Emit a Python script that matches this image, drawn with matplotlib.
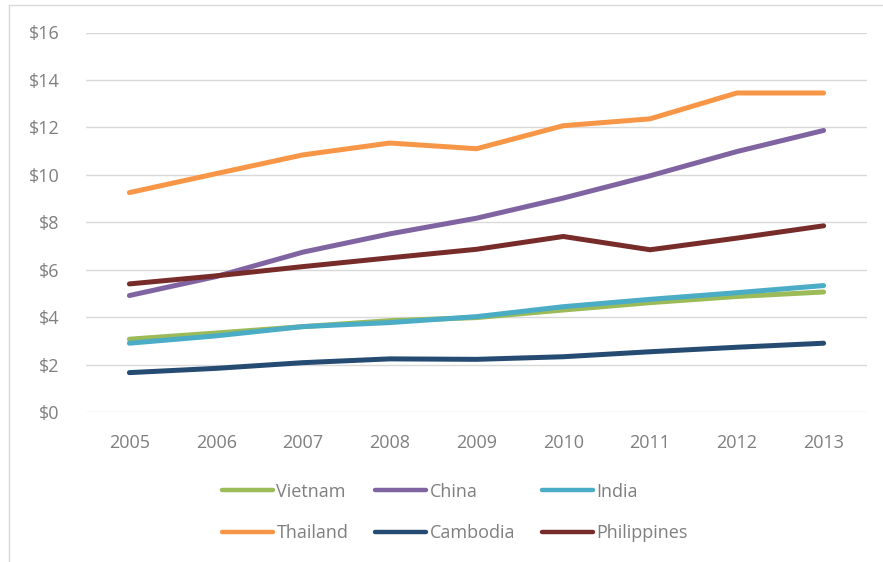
import matplotlib
matplotlib.use("Agg")
import matplotlib.pyplot as plt
from matplotlib.lines import Line2D

years = ["2005", "2006", "2007", "2008", "2009", "2010", "2011", "2012", "2013"]
vietnam = [3.07, 3.33, 3.60, 3.85, 3.98, 4.30, 4.61, 4.87, 5.06]
china = [4.91, 5.71, 6.74, 7.51, 8.17, 9.02, 9.96, 10.98, 11.87]
india = [2.90, 3.21, 3.60, 3.77, 4.02, 4.44, 4.75, 5.03, 5.33]
thailand = [9.25, 10.05, 10.84, 11.34, 11.10, 12.07, 12.36, 13.45, 13.45]
cambodia = [1.66, 1.84, 2.08, 2.24, 2.22, 2.33, 2.54, 2.73, 2.90]
philippines = [5.40, 5.74, 6.13, 6.50, 6.86, 7.40, 6.84, 7.33, 7.85]
y_ticks = [0, 2, 4, 6, 8, 10, 12, 14, 16]

series = [
    ("Vietnam", vietnam, "#9BBB59"),
    ("China", china, "#8064A2"),
    ("India", india, "#4BACC6"),
    ("Thailand", thailand, "#F79646"),
    ("Cambodia", cambodia, "#264B73"),
    ("Philippines", philippines, "#772C2A"),
]

plt.rcParams['font.family'] = ['Open Sans', 'DejaVu Sans']
text_color = "#7F7F7F"

fig = plt.figure(figsize=(8.83, 5.62), dpi=100)
ax = fig.add_axes([86/883, 1 - 412/562, (867-86)/883, (412-32.5)/562])

x = list(range(len(years)))
handles = []
for name, vals, col in series:
    ax.plot(x, vals, color=col, lw=3.6, solid_capstyle='round',
            solid_joinstyle='round', label=name, zorder=3)
    handles.append(Line2D([], [], color=col, lw=3.2, solid_capstyle='round'))

ax.set_xlim(-0.5, len(years) - 0.5)
ax.set_ylim(0, 16)
ax.set_xticks(x)
ax.set_xticklabels(years)
ax.set_yticks(y_ticks)
ax.set_yticklabels([f"${v}" for v in y_ticks])
ax.tick_params(axis='both', length=0, labelsize=13, colors=text_color)
ax.tick_params(axis='y', pad=19)
ax.tick_params(axis='x', pad=16)
ax.grid(axis='y', color="#D9D9D9", lw=1.0, zorder=0)
for s in ax.spines.values():
    s.set_visible(False)

# legend filled row-wise (matplotlib fills column-wise, so reorder)
order = [0, 3, 1, 4, 2, 5]
fig.legend([handles[i] for i in order], [series[i][0] for i in order],
           ncol=3, loc='center',
           bbox_to_anchor=(455/883, 1 - 512.5/562), frameon=False,
           fontsize=13, labelcolor=text_color, handlelength=2.8,
           handletextpad=0.2, columnspacing=1.5, labelspacing=1.32)

# outer chart border (top and left visible)
fig.add_artist(Line2D([9/883, 9/883], [0, 1 - 4.5/562], transform=fig.transFigure,
                      color="#D9D9D9", lw=1.0))
fig.add_artist(Line2D([9/883, 1], [1 - 4.5/562, 1 - 4.5/562], transform=fig.transFigure,
                      color="#D9D9D9", lw=1.0))

fig.savefig("out.png", dpi=100)
